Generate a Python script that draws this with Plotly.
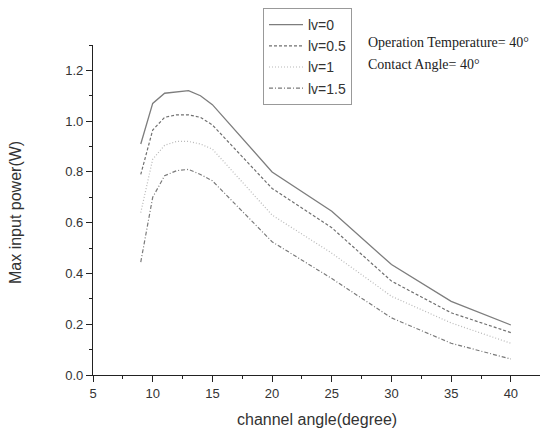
import plotly.graph_objects as go

angle = [9, 10, 11, 12, 13, 14, 15, 20, 25, 30, 35, 40]
lv0 = [0.91, 1.07, 1.11, 1.115, 1.12, 1.10, 1.065, 0.80, 0.645, 0.435, 0.29, 0.197]
lv05 = [0.79, 0.965, 1.015, 1.025, 1.025, 1.015, 0.985, 0.735, 0.58, 0.37, 0.245, 0.167]
lv1 = [0.64, 0.85, 0.905, 0.92, 0.92, 0.91, 0.89, 0.63, 0.48, 0.31, 0.205, 0.125]
lv15 = [0.445, 0.70, 0.785, 0.805, 0.81, 0.79, 0.765, 0.525, 0.38, 0.225, 0.125, 0.063]
names = ["lv=0", "lv=0.5", "lv=1", "lv=1.5"]

series = [lv0, lv05, lv1, lv15]
styles = [("#7d7d7d", "solid", 1.3),
          ("#707070", "3px,2px", 1.2),
          ("#b8b8b8", "1px,2px", 1.2),
          ("#7a7a7a", "4px,2px,1px,2px", 1.2)]

fig = go.Figure()
for name, ys, (c, d, w) in zip(names, series, styles):
    fig.add_trace(go.Scatter(x=angle, y=ys, mode="lines", name=name,
                             line=dict(color=c, dash=d, width=w)))

tickfont = dict(family="Liberation Sans, Arial", size=13, color="#333")
axis_common = dict(showline=True, linecolor="#222", linewidth=1.2, ticks="outside",
                   ticklen=6, tickcolor="#222", showgrid=False, zeroline=False,
                   tickfont=tickfont, mirror=False, automargin=False)

fig.update_xaxes(range=[5, 42.44], dtick=5, tick0=5,
                 minor=dict(ticks="outside", ticklen=3, dtick=2.5, tickcolor="#222"),
                 **axis_common)
fig.update_yaxes(range=[0, 1.3], dtick=0.2, tickformat=".1f",
                 minor=dict(ticks="outside", ticklen=3, dtick=0.1, tickcolor="#222"),
                 **axis_common)

W, H = 540, 430
L, R, T, B = 93, 0, 45, 55
pw, ph = W - L - R, H - T - B

def px(xp):
    return (xp - L) / pw

def py(yp):
    return (H - B - yp) / ph

title_font = dict(family="Liberation Sans, Arial", size=16, color="#333")
fig.add_annotation(text="channel angle(degree)", xref="paper", yref="paper",
                   x=px(317), y=py(419), xanchor="center", yanchor="middle",
                   showarrow=False, font=title_font)
fig.add_annotation(text="Max input power(W)", xref="paper", yref="paper",
                   x=px(16), y=py(213), xanchor="center", yanchor="middle",
                   textangle=-90, showarrow=False, font=title_font)

serif = dict(family="Liberation Serif, Times New Roman", size=14, color="#222")
fig.add_annotation(text="Operation Temperature= 40°", xref="paper", yref="paper",
                   x=px(366), y=py(42), xanchor="left", yanchor="middle",
                   showarrow=False, font=serif)
fig.add_annotation(text="Contact Angle= 40°", xref="paper", yref="paper",
                   x=px(366), y=py(64), xanchor="left", yanchor="middle",
                   showarrow=False, font=serif)

fig.update_layout(
    width=W, height=H,
    margin=dict(l=L, r=R, t=T, b=B),
    paper_bgcolor="white", plot_bgcolor="white",
    showlegend=True,
    legend=dict(x=px(263), y=py(8), xanchor="left", yanchor="top",
                bordercolor="#999", borderwidth=1, bgcolor="white",
                font=dict(family="Liberation Sans, Arial", size=14, color="#333"),
                itemwidth=34, tracegroupgap=0),
)

fig.write_html("out.html", config={"displayModeBar": False},
               post_script="document.body.style.margin='0';document.body.style.overflow='hidden';")
